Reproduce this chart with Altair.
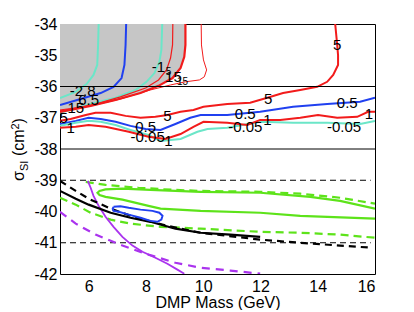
import altair as alt
import pandas as pd

# ---------------- data (x: DMP mass [GeV], y: log10 sigma_SI [cm^2]) ----------------
x_ticks = [6, 8, 10, 12, 14, 16]
y_ticks = [-42, -41, -40, -39, -38, -37, -36, -35, -34]

# upper panel contours
cyanL_x = [6.35, 6.33, 6.30, 6.17, 5.93, 5.55, 5.0]
cyanL_y = [-34.0, -34.67, -35.31, -35.63, -35.92, -36.17, -36.37]
blueT_x = [7.31, 7.29, 7.25, 7.15, 6.87, 6.42, 5.72, 5.0]
blueT_y = [-34.0, -34.67, -35.31, -35.73, -36.01, -36.21, -36.40, -36.59]
cyanR_x = [8.57, 8.54, 8.47, 8.30, 8.02, 7.64, 6.94, 6.07, 5.37, 5.0]
cyanR_y = [-34.0, -34.83, -35.21, -35.57, -35.85, -36.11, -36.36, -36.56, -36.75, -36.84]
redA_x = [8.94, 8.93, 8.86, 8.72, 8.44, 7.99, 7.11, 6.24, 5.37, 5.0]
redA_y = [-34.0, -34.67, -35.09, -35.47, -35.79, -36.05, -36.33, -36.56, -36.72, -36.78]
redB_x = [9.38, 9.38, 9.34, 9.21, 8.93, 8.44, 7.81, 6.94, 6.07, 5.37, 5.0]
redB_y = [-34.0, -34.67, -35.05, -35.41, -35.73, -35.98, -36.21, -36.43, -36.62, -36.75, -36.81]
redC_x = [9.93, 9.94, 10.01, 10.12, 10.04, 9.87, 9.38, 8.86, 8.16, 7.11, 6.07, 5.0]
redC_y = [-34.0, -34.67, -35.15, -35.47, -35.69, -35.79, -35.85, -35.95, -36.11, -36.40, -36.62, -36.75]

# excluded (grey) region boundary
grey_x = [9.38, 9.34, 9.21, 8.93, 8.44, 7.81, 6.94, 6.07, 5.37, 5.0]
grey_y = [-34.67, -35.05, -35.41, -35.73, -35.98, -36.21, -36.43, -36.62, -36.75, -36.81]

# middle panel contours
red5_x = [5.0, 5.37, 5.90, 6.24, 6.77, 7.29, 7.81, 8.33, 8.75, 9.21, 9.66, 10.01, 10.84,
          11.64, 12.24, 12.79, 13.39, 13.98, 14.33, 14.54, 14.71, 14.71, 14.68, 14.61]
red5_y = [-37.10, -37.04, -36.91, -36.84, -36.84, -36.94, -37.0, -36.97, -36.91, -36.81,
          -36.75, -36.65, -36.56, -36.52, -36.36, -36.21, -36.11, -36.01, -35.85, -35.63,
          -35.31, -35.0, -34.67, -34.0]
blueM_x = [5.0, 5.55, 6.0, 6.42, 6.94, 7.46, 7.99, 8.51, 9.03, 9.55, 9.91, 10.84, 11.99,
           13.14, 14.33, 15.48, 16.0]
blueM_y = [-37.20, -37.10, -37.0, -37.04, -37.13, -37.26, -37.36, -37.39, -37.20, -37.0,
           -36.91, -36.91, -36.81, -36.65, -36.56, -36.49, -36.36]
cyanM_x = [5.0, 5.55, 6.0, 6.42, 6.94, 7.46, 8.09, 8.51, 9.21, 9.80, 10.15, 10.84, 11.99,
           13.14, 14.33, 15.48, 16.0]
cyanM_y = [-37.26, -37.16, -37.10, -37.13, -37.23, -37.39, -37.55, -37.74, -37.68, -37.45,
           -37.36, -37.32, -37.13, -37.16, -37.16, -37.20, -37.10]
red1_x = [5.0, 5.55, 6.0, 6.59, 7.40, 8.09, 8.68, 9.21, 9.66, 10.01, 10.84, 11.54, 11.99,
          12.69, 13.39, 14.01, 14.68, 15.38, 15.76, 16.0]
red1_y = [-37.32, -37.29, -37.23, -37.29, -37.45, -37.61, -37.68, -37.52, -37.29, -37.13,
          -37.16, -37.23, -37.07, -37.07, -37.0, -36.91, -37.0, -36.97, -36.81, -36.81]

# lower panel
sep_levels = [-36, -38]
limit_levels = [-39, -41]
limit_xmin = 5.0
limit_xmax = 15.85

gDashU_x = [5.90, 6.59, 7.74, 9.03, 9.91, 11.99, 13.39, 14.78, 16.0]
gDashU_y = [-39.05, -39.15, -39.24, -39.31, -39.34, -39.37, -39.43, -39.56, -39.75]
gSolid_x = [16.0, 14.78, 13.74, 11.99, 9.91, 8.16, 7.18, 6.59, 6.38, 6.31, 6.38, 6.59, 7.18,
            8.09, 8.51, 9.91, 11.99, 13.39, 16.0]
gSolid_y = [-39.91, -39.66, -39.53, -39.40, -39.37, -39.31, -39.27, -39.29, -39.34, -39.40,
            -39.47, -39.53, -39.62, -39.82, -39.91, -39.98, -40.04, -40.14, -40.23]
gDashL_x = [5.0, 5.55, 6.07, 6.77, 7.46, 8.51, 9.91, 11.99, 13.39, 14.78, 16.0]
gDashL_y = [-39.56, -39.78, -40.04, -40.26, -40.39, -40.49, -40.55, -40.65, -40.68, -40.74, -40.84]
kSolid_x = [5.0, 5.55, 6.0, 6.77, 7.46, 8.16, 9.03, 9.91, 10.95, 11.99]
kSolid_y = [-39.34, -39.59, -39.78, -40.04, -40.20, -40.33, -40.55, -40.68, -40.74, -40.81]
kDash_x = [5.0, 5.55, 6.0, 6.77, 7.57, 8.75, 9.91, 11.99, 13.39, 14.78, 15.90]
kDash_y = [-39.02, -39.34, -39.59, -39.91, -40.17, -40.46, -40.68, -40.90, -41.0, -41.09, -41.16]
pSolid_x = [5.97, 6.07, 6.17, 6.35, 6.59, 6.87, 7.18, 7.53, 7.88, 8.33, 8.75, 9.10, 9.34]
pSolid_y = [-39.02, -39.24, -39.50, -39.82, -40.17, -40.49, -40.81, -41.09, -41.29, -41.48,
            -41.67, -41.86, -41.99]
pDash_x = [5.0, 5.55, 6.24, 7.18, 8.09, 9.03, 9.91, 10.95, 11.99]
pDash_y = [-40.01, -40.39, -40.74, -41.09, -41.38, -41.64, -41.80, -41.89, -41.99]
bLoop_x = [6.87, 7.11, 7.40, 7.81, 8.23, 8.47, 8.58, 8.54, 8.40, 8.16, 7.81, 7.40, 7.05, 6.87,
           6.84, 6.87]
bLoop_y = [-39.85, -39.83, -39.88, -39.94, -39.98, -40.04, -40.14, -40.26, -40.33, -40.30,
           -40.20, -40.10, -40.01, -39.98, -39.91, -39.85]

# contour labels
lab_text = ["-2.8", "6.5", "15", "5", "1", "-1", "15", "5", "0.5", "-0.05", "1",
            "5", "0.5", "1", "-0.05", "5", "0.5", "1", "-0.05"]
lab_x = [5.79, 6.0, 5.55, 5.13, 5.37, 8.44, 8.96, 8.75, 7.99, 8.06, 8.79,
         12.27, 11.47, 12.24, 11.47, 14.68, 15.03, 15.79, 14.92]
lab_y = [-36.14, -36.43, -36.68, -37.0, -37.32, -35.37, -35.69, -36.94, -37.29, -37.61, -37.74,
         -36.40, -36.88, -37.07, -37.29, -34.67, -36.52, -36.88, -37.29]
small_text = ["5", "15"]
small_x = [8.79, 9.28]
small_y = [-35.53, -35.85]

# ---------------- styling ----------------
RED = "#f21b1b"
BLUE = "#2040f0"
CYAN = "#6be6c8"
GREEN = "#5de31a"
PURPLE = "#aa33ee"
GREY = "#c6c6c6"
FONT = "Liberation Sans"
W, H = 315, 250


def xenc():
    return alt.X("x:Q", scale=alt.Scale(domain=[5, 16], nice=False, zero=False),
                 axis=alt.Axis(values=x_ticks, title="DMP Mass (GeV)", labelPadding=4,
                               titleY=33, titleBaseline="alphabetic", format="d"))


def yenc():
    return alt.Y("y:Q", scale=alt.Scale(domain=[-42, -34], nice=False, zero=False),
                 axis=alt.Axis(values=y_ticks, title=None, labelPadding=3, format="d",
                               labelExpr="replace(datum.label, '\u2212', '-')"))


def curve(xs, ys, color, width=2.0, dash=None):
    df = pd.DataFrame({"x": xs, "y": ys, "i": list(range(len(xs)))})
    kw = dict(color=color, strokeWidth=width, clip=True)
    if dash:
        kw["strokeDash"] = dash
    return alt.Chart(df).mark_line(**kw).encode(x=xenc(), y=yenc(), order="i:Q")


layers = []

# grey region
grey_df = pd.DataFrame({"x": grey_x, "y": grey_y, "top": [-34.0] * len(grey_x)})
layers.append(alt.Chart(grey_df).mark_area(color=GREY, opacity=1, clip=True).encode(
    x=xenc(), y=yenc(), y2="top:Q"))

# upper contours
layers += [
    curve(cyanL_x, cyanL_y, CYAN),
    curve(blueT_x, blueT_y, BLUE),
    curve(cyanR_x, cyanR_y, CYAN),
    curve(redA_x, redA_y, RED, 1.2),
    curve(redB_x, redB_y, RED, 2.2),
    curve(redC_x, redC_y, RED, 1.0),
    curve(red5_x, red5_y, RED),
    curve(blueM_x, blueM_y, BLUE),
    curve(cyanM_x, cyanM_y, CYAN),
    curve(red1_x, red1_y, RED),
]

# separators
sep_df = pd.DataFrame({"y": sep_levels})
layers.append(alt.Chart(sep_df).mark_rule(color="black", strokeWidth=1).encode(y=yenc()))
lim_df = pd.DataFrame({"y": limit_levels, "x": [limit_xmin] * 2, "x2": [limit_xmax] * 2})
layers.append(alt.Chart(lim_df).mark_rule(color="black", strokeWidth=1, strokeDash=[6, 4]).encode(
    y=yenc(), x=xenc(), x2="x2:Q"))

# lower contours
layers += [
    curve(gDashU_x, gDashU_y, GREEN, 2.2, [8, 5]),
    curve(gSolid_x, gSolid_y, GREEN, 2.2),
    curve(gDashL_x, gDashL_y, GREEN, 2.2, [8, 5]),
    curve(pSolid_x, pSolid_y, PURPLE, 1.8),
    curve(pDash_x, pDash_y, PURPLE, 2.2, [8, 6]),
    curve(kSolid_x, kSolid_y, "black", 2.2),
    curve(kDash_x, kDash_y, "black", 2.2, [7, 5]),
    curve(bLoop_x, bLoop_y, BLUE, 2.0),
]

# contour labels
lab_df = pd.DataFrame({"x": lab_x, "y": lab_y, "t": lab_text})
layers.append(alt.Chart(lab_df).mark_text(font=FONT, fontSize=15, color="black").encode(
    x=xenc(), y=yenc(), text="t:N"))
small_df = pd.DataFrame({"x": small_x, "y": small_y, "t": small_text})
layers.append(alt.Chart(small_df).mark_text(font=FONT, fontSize=10, color="black").encode(
    x=xenc(), y=yenc(), text="t:N"))

# rotated y title: sigma_SI (cm^2)
one = pd.DataFrame({"k": [0]})
ytitle = [("\u03c3", 16, -36, 157.0), ("SI", 11, -32, 147.0), ("(cm", 16, -36, 132.0),
          ("2", 11, -41, 105.5), (")", 16, -36, 99.5)]
for txt, size, px, py in ytitle:
    layers.append(alt.Chart(one).mark_text(
        text=txt, font=FONT, fontSize=size, angle=270, align="left", baseline="alphabetic",
        color="black").encode(x=alt.value(px), y=alt.value(py)))

chart = alt.layer(*layers).properties(
    width=W, height=H,
    padding={"left": 52, "top": 16, "right": 20, "bottom": 36},
    autosize=alt.AutoSizeParams(type="none"),
).configure_view(stroke="black", strokeWidth=1).configure_axis(
    grid=False, domain=False, tickSize=0, labelFont=FONT, labelFontSize=16,
    labelColor="black", titleFont=FONT, titleFontSize=16, titleColor="black",
    titleFontWeight="normal")

chart.save("out.html", embed_options={"renderer": "svg", "actions": False})
